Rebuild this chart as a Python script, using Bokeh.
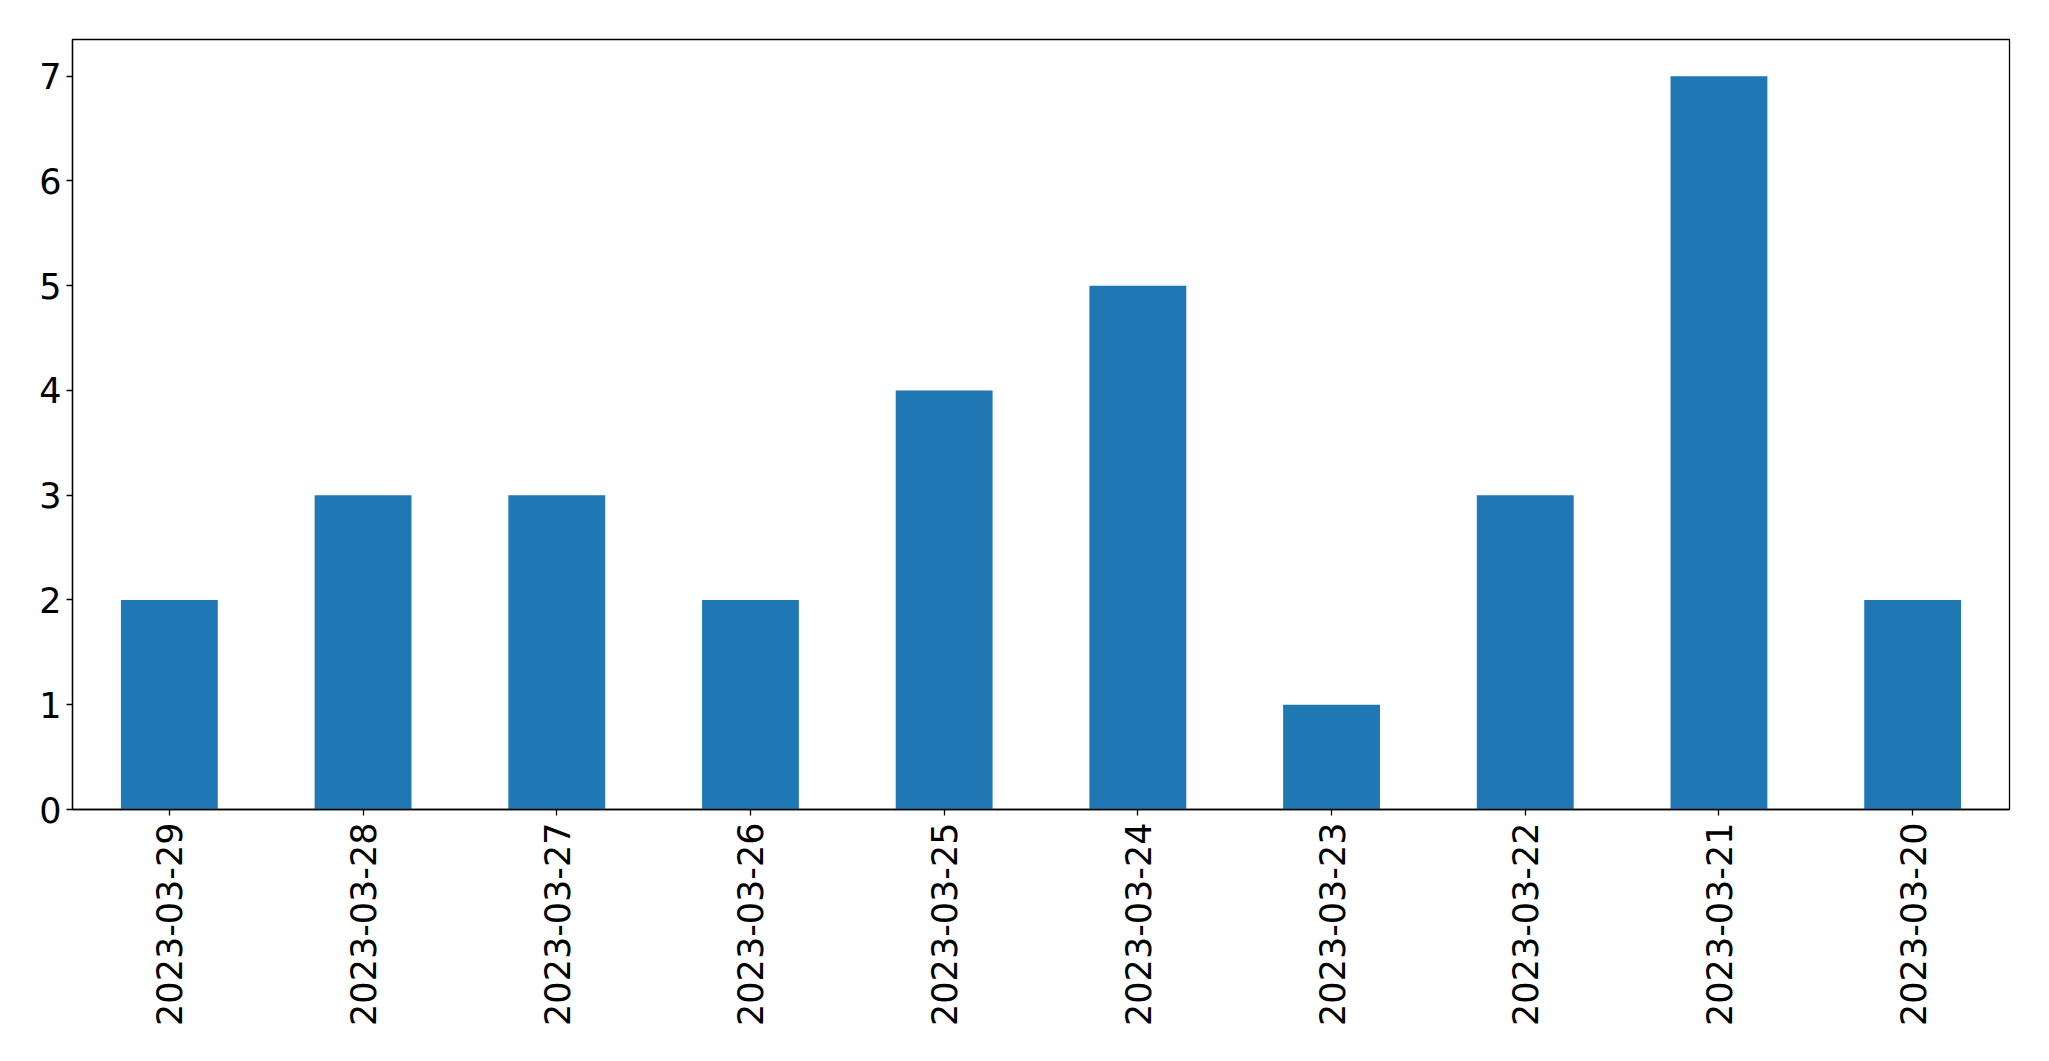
import math
from bokeh.plotting import figure
from bokeh.models import Range1d, FactorRange, ColumnDataSource
from bokeh.embed import file_html
from bokeh.resources import INLINE

dates = ["2023-03-29", "2023-03-28", "2023-03-27", "2023-03-26", "2023-03-25",
         "2023-03-24", "2023-03-23", "2023-03-22", "2023-03-21", "2023-03-20"]
counts = [2, 3, 3, 2, 4, 5, 1, 3, 7, 2]

source = ColumnDataSource(data=dict(dates=dates, counts=counts))

p = figure(width=2041, height=1053, output_backend="svg", toolbar_location=None,
           x_range=FactorRange(factors=dates, range_padding=0),
           y_range=Range1d(0, 7.35),
           min_border_left=72, min_border_right=32, min_border_top=39, min_border_bottom=244)

p.vbar(x="dates", top="counts", width=0.5, source=source, color="#1f77b4", line_color=None)

p.xgrid.visible = False
p.ygrid.visible = False
p.outline_line_color = "black"
p.outline_line_alpha = 1.0
p.outline_line_width = 1.3

for ax in (p.xaxis, p.yaxis):
    ax.axis_line_color = "black"
    ax.axis_line_width = 1.3
    ax.major_tick_line_color = "black"
    ax.major_tick_line_width = 1.3
    ax.major_tick_out = 6
    ax.major_tick_in = 0
    ax.minor_tick_line_color = None
    ax.major_label_text_font = "DejaVu Sans"
    ax.major_label_text_font_size = "35px"
    ax.major_label_text_color = "black"

p.yaxis.ticker = [0, 1, 2, 3, 4, 5, 6, 7]
p.yaxis.major_label_standoff = 5
p.xaxis.major_label_orientation = math.pi / 2
p.xaxis.major_label_standoff = 7

open("out.html", "w").write(file_html(p, INLINE))
